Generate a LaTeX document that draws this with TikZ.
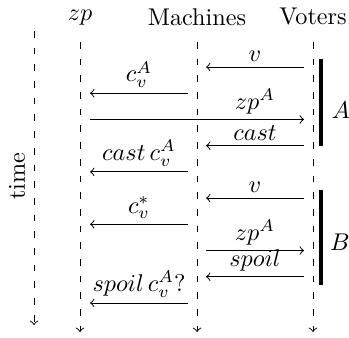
\documentclass[tikz,border=0pt]{standalone}
\begin{document}
\begin{tikzpicture}[x=0.4133pt,y=-0.4133pt,
  lifeline/.style={dash pattern=on 2.77pt off 4.13pt,->},
  msg/.style={->},
  lbl/.style={above,inner sep=2pt},
  hdr/.style={anchor=south,inner sep=0pt},
  phasebar/.style={line width=1.9pt}]
\useasboundingbox (0,0) rectangle (349,337);
% lifelines
\coordinate (Tt) at (34,31);  \coordinate (Tb) at (34,325);
\coordinate (Zt) at (80,42);  \coordinate (Zb) at (80,332);
\coordinate (Mt) at (197,42); \coordinate (Mb) at (197,332);
\coordinate (Vt) at (313,42); \coordinate (Vb) at (313,332);
\draw[lifeline] (Tt) -- (Tb);
\draw[lifeline] (Zt) -- (Zb);
\draw[lifeline] (Mt) -- (Mb);
\draw[lifeline] (Vt) -- (Vb);
% headers
\node[hdr] (hz) at (80,26) {$zp$};
\node[hdr] (hm) at (197,26) {Machines};
\node[hdr] (hv) at (313,26) {Voters};
\node[rotate=90] (time) at (17,176) {time};
% row end points
\foreach \i in {1,...,10}{
  \pgfmathsetmacro{\yy}{67+26.22*(\i-1)}
  \coordinate (z\i) at (90,\yy);
  \coordinate (ml\i) at (188,\yy);
  \coordinate (mr\i) at (206,\yy);
  \coordinate (v\i) at (304,\yy);
}
% messages
\draw[msg] (v1) -- node[lbl] (l1) {$v$} (mr1);
\draw[msg] (ml2) -- node[lbl] (l2) {$c_v^A$} (z2);
\draw[msg] (z3) -- (v3);
\path (mr3) -- node[lbl] (l3) {$zp^A$} (v3);
\draw[msg] (v4) -- node[lbl] (l4) {$cast$} (mr4);
\draw[msg] (ml5) -- node[lbl] (l5) {$cast\,c_v^A$} (z5);
\draw[msg] (v6) -- node[lbl] (l6) {$v$} (mr6);
\draw[msg] (ml7) -- node[lbl] (l7) {$c_v^*$} (z7);
\draw[msg] (mr8) -- node[lbl] (l8) {$zp^A$} (v8);
\draw[msg] (v9) -- node[lbl] (l9) {$spoil$} (mr9);
\draw[msg] (ml10) -- node[lbl] (l10) {$spoil\,c_v^A?$} (z10);
% phase bars
\coordinate (At) at (321,59);  \coordinate (Ab) at (321,146);
\coordinate (Bt) at (321,190); \coordinate (Bb) at (321,285);
\draw[phasebar] (At) -- (Ab);
\draw[phasebar] (Bt) -- (Bb);
\node (pA) at (341,110) {$A$};
\node (pB) at (340,242) {$B$};
\end{tikzpicture}
\end{document}
